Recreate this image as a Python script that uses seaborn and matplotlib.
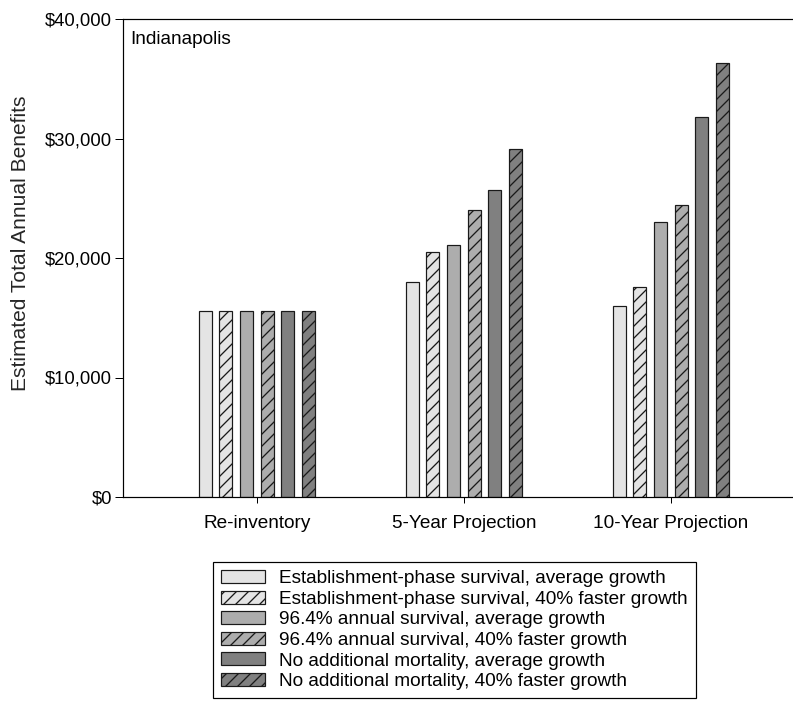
import matplotlib
matplotlib.use("Agg")
import matplotlib.pyplot as plt
import seaborn as sns
import pandas as pd

periods = ["Re-inventory", "5-Year Projection", "10-Year Projection"]
scenarios = [
    "Establishment-phase survival, average growth",
    "Establishment-phase survival, 40% faster growth",
    "96.4% annual survival, average growth",
    "96.4% annual survival, 40% faster growth",
    "No additional mortality, average growth",
    "No additional mortality, 40% faster growth",
]
# benefits per scenario, one value per period
benefits = {
    scenarios[0]: [15600, 18000, 16000],
    scenarios[1]: [15600, 20500, 17600],
    scenarios[2]: [15600, 21100, 23000],
    scenarios[3]: [15600, 24000, 24400],
    scenarios[4]: [15600, 25700, 31800],
    scenarios[5]: [15600, 29100, 36300],
}
fills = ["#e4e4e4", "#e4e4e4", "#adadad", "#adadad", "#808080", "#808080"]
hatches = ["", "//", "", "//", "", "//"]
y_ticks = [0, 10000, 20000, 30000, 40000]
y_tick_labels = ["$0", "$10,000", "$20,000", "$30,000", "$40,000"]

rows = []
for s in scenarios:
    for p, v in zip(periods, benefits[s]):
        rows.append({"period": p, "scenario": s, "value": v})
df = pd.DataFrame(rows)

sns.set_theme(style="white")
plt.rcParams["font.family"] = ["Liberation Sans", "DejaVu Sans"]
plt.rcParams["hatch.linewidth"] = 1.3
plt.rcParams["hatch.color"] = "black"

DPI = 72
fig = plt.figure(figsize=(793 / DPI, 704 / DPI), dpi=DPI)
ax = fig.add_axes([123 / 793, 1 - 497 / 704, 669 / 793, 478 / 704])

sns.barplot(data=df, x="period", y="value", hue="scenario",
            order=periods, hue_order=scenarios, palette=fills,
            width=0.6, gap=0.37, edgecolor="#1a1a1a", linewidth=1.2,
            saturation=1, legend=False, ax=ax)

for cont, h in zip(ax.containers, hatches):
    for bar in cont:
        bar.set_hatch(h)

ax.set_xlim(-0.647, 2.585)
ax.set_ylim(0, 40000)
ax.set_yticks(y_ticks)
ax.set_yticklabels(y_tick_labels)
ax.set_xlabel("")
ax.set_ylabel("Estimated Total Annual Benefits", fontsize=21)
ax.yaxis.set_label_coords(-0.139, 0.531)

for side in ["top", "bottom", "left"]:
    ax.spines[side].set_visible(True)
    ax.spines[side].set_color("black")
    ax.spines[side].set_linewidth(1.2)
ax.spines["right"].set_visible(False)
ax.tick_params(axis="y", direction="out", length=8, width=1, color="black",
               labelsize=18.5, left=True, pad=3, labelcolor="black")
ax.tick_params(axis="x", direction="out", length=6, width=1, color="black",
               labelsize=19, bottom=True, pad=12, labelcolor="black")

ax.text(0.011, 0.975, "Indianapolis", transform=ax.transAxes,
        ha="left", va="top", fontsize=19, color="black")

leg = fig.legend(handles=list(ax.containers), labels=scenarios,
                 loc="upper left", bbox_to_anchor=(213 / 793, 1 - 562 / 704),
                 fontsize=19, frameon=True, fancybox=False, edgecolor="black",
                 framealpha=1, labelspacing=0.18, handlelength=2.3,
                 handleheight=0.68, handletextpad=0.75, borderpad=0.42,
                 borderaxespad=0)
leg.get_frame().set_linewidth(1.2)
for t in leg.get_texts():
    t.set_color("black")

fig.savefig("out.png", dpi=DPI)
